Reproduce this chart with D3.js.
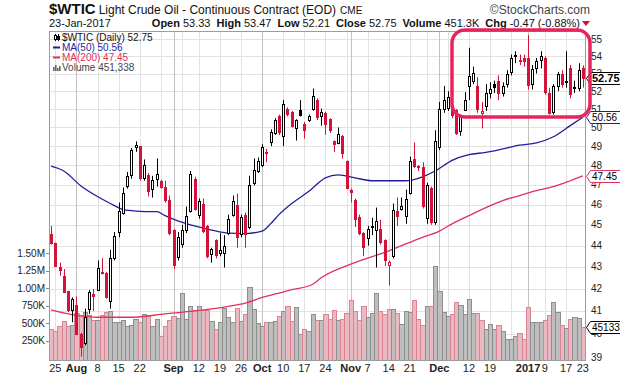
<!DOCTYPE html>
<html>
<head>
<meta charset="utf-8">
<script src="https://cdn.jsdelivr.net/npm/d3@7"></script>
<style>
  body { margin: 0; background: #fff; }
  svg { display: block; font-family: "Liberation Sans", Arial, sans-serif; }
</style>
</head>
<body>
<div id="chart"></div>
<script>
// daily OHLC, 22-Jul-2016 .. 23-Jan-2017 (127 sessions)
const opens = [44.57,44.11,43.00,42.60,41.88,41.05,41.28,40.00,39.60,41.08,41.75,41.95,42.77,42.70,41.43,43.40,44.65,45.58,46.95,47.50,
  48.95,49.00,47.35,47.50,46.77,47.30,47.20,46.90,46.25,44.75,43.45,44.08,44.75,45.70,47.30,45.50,46.05,44.95,43.62,44.25,
  43.65,43.66,44.60,45.50,46.00,44.55,45.50,44.90,47.10,47.70,48.00,48.70,49.20,49.70,50.60,49.55,51.03,50.85,49.95,50.95,
  50.20,50.40,51.03,51.50,50.62,50.78,50.45,49.25,49.17,49.55,48.20,46.75,46.25,45.40,44.60,44.35,44.95,44.75,44.80,44.25,
  43.10,43.50,45.70,45.80,45.45,46.60,48.30,47.95,47.90,45.35,46.85,45.15,48.95,51.00,51.05,51.00,50.95,49.80,50.95,52.30,
  52.55,52.30,50.80,51.20,51.90,52.40,52.60,51.90,52.40,53.10,54.00,53.70,53.90,53.90,52.40,53.30,53.80,53.90,51.90,50.85,
  52.30,53.00,52.50,53.30,52.25,52.20,53.33];
const highs = [44.95,44.15,43.20,42.90,41.90,41.60,41.65,40.05,41.10,41.94,41.98,43.30,43.40,42.77,43.80,44.65,46.10,46.85,47.65,48.90,
  49.25,49.00,48.30,47.60,47.45,48.35,47.25,47.20,46.45,44.80,44.65,45.00,45.90,47.70,47.40,46.30,46.30,45.00,43.90,44.30,
  44.60,44.50,45.50,46.45,46.55,45.50,45.60,47.45,48.35,48.40,49.10,48.85,49.90,50.50,50.70,51.50,51.10,50.90,50.45,51.50,
  50.30,50.70,52.15,51.60,51.03,50.85,50.50,49.30,50.00,49.60,48.25,46.80,46.30,45.50,44.65,44.95,45.35,45.85,45.25,44.30,
  43.30,46.05,46.35,46.35,46.75,48.45,49.20,48.00,48.15,47.10,46.90,49.85,51.40,52.30,52.00,51.05,51.00,50.70,51.95,54.50,
  53.40,52.80,51.40,52.40,52.50,52.60,52.90,52.50,53.20,54.10,54.30,54.10,54.10,55.25,53.50,53.90,54.30,54.00,52.20,52.40,
  53.10,53.20,54.30,53.50,52.60,53.60,53.47];
const lows = [44.05,43.00,42.60,41.80,40.95,40.50,39.95,39.02,39.50,40.86,41.00,41.90,42.65,41.55,41.10,43.30,44.40,45.50,46.80,47.30,
  48.70,47.20,47.20,46.40,46.35,46.90,46.80,46.10,44.50,42.90,43.30,43.90,44.60,45.60,45.70,45.30,44.60,43.40,43.20,43.40,
  43.50,42.97,44.50,45.40,43.90,44.40,43.90,44.80,46.95,47.60,47.90,48.15,49.00,49.60,49.60,49.00,50.60,50.00,49.30,50.60,
  49.40,50.30,50.92,50.40,50.10,49.60,49.70,48.70,49.10,48.35,46.80,46.10,44.90,44.50,43.50,44.00,44.50,42.97,44.05,43.05,
  42.15,43.40,44.95,45.70,45.05,46.50,47.85,47.70,45.80,45.05,45.00,45.00,48.80,50.80,50.90,50.50,49.60,49.55,50.90,51.50,
  52.40,50.80,49.95,50.90,51.60,51.90,51.50,51.70,52.20,52.90,53.60,53.50,53.40,52.10,52.10,53.00,53.30,51.80,50.70,50.70,
  52.00,52.20,52.20,51.60,51.90,52.00,52.21];
const closes = [44.11,43.05,42.87,41.85,41.05,41.55,40.00,39.42,40.75,41.86,41.67,42.95,42.70,41.62,43.40,44.45,45.70,46.60,47.45,48.80,
  49.05,47.35,48.03,46.70,47.25,47.55,46.90,46.25,44.60,43.10,44.40,44.75,45.45,47.55,45.80,46.20,44.70,43.50,43.85,43.58,
  43.80,44.00,45.30,46.20,44.40,45.40,44.55,47.00,47.75,48.20,48.95,48.62,49.75,50.40,49.75,51.30,50.75,50.10,50.40,50.70,
  49.85,50.60,51.75,50.55,50.82,50.20,49.85,49.12,49.65,48.62,46.85,46.62,45.30,44.60,43.95,44.80,44.90,45.20,44.15,43.30,
  43.25,45.75,45.45,45.95,46.30,48.20,47.95,47.90,45.95,47.00,45.15,49.30,51.03,51.50,51.70,50.70,49.70,50.60,51.50,52.85,
  53.05,51.00,50.90,51.90,52.15,52.25,51.90,52.30,53.00,53.90,54.05,53.80,53.72,52.35,53.25,53.75,54.00,51.95,50.80,52.30,
  53.00,52.40,52.55,51.85,52.20,53.22,52.75];
const prevClose0 = 44.75;
// volume in millions of contracts
const volumes = [0.41,0.39,0.46,0.53,0.46,0.47,0.65,0.61,0.66,0.62,0.54,0.54,0.61,0.66,0.67,0.52,0.51,0.55,0.46,0.47,
  0.56,0.52,0.63,0.61,0.46,0.56,0.32,0.46,0.55,0.60,0.57,0.93,0.56,0.74,0.68,0.74,0.69,0.69,0.53,0.42,
  0.51,0.71,0.58,0.52,0.71,0.53,0.63,1.02,0.70,0.50,0.46,0.52,0.52,0.53,0.60,0.67,0.74,0.53,0.73,0.34,
  0.42,0.38,0.63,0.54,0.54,0.63,0.56,0.69,0.54,0.56,0.65,0.83,0.67,0.54,0.74,0.58,0.65,0.93,0.67,0.63,
  0.70,0.70,0.65,0.49,0.67,0.66,0.83,0.56,0.47,0.74,0.74,1.32,0.96,0.66,0.60,0.63,0.80,0.76,0.63,0.84,
  0.65,0.65,0.54,0.42,0.49,0.42,0.47,0.38,0.27,0.27,0.31,0.36,0.27,0.73,0.51,0.51,0.51,0.55,0.62,0.80,
  0.66,0.47,0.43,0.56,0.58,0.57,0.45];

// moving averages at sample sessions
const ma50Idx = [0,3,7,11,15,17,19,23,25,27,30,34,38,42,46,50,52,54,57,61,65,68,72,76,80,84,88,91,95,99,103,107,111,115,119,123,126];
const ma50Val = [47.95,47.7,46.95,46.4,45.95,45.75,45.7,45.65,45.65,45.45,45.2,44.95,44.75,44.6,44.58,44.7,45.05,45.5,46.05,46.65,
  47.35,47.5,47.35,47.2,47.2,47.2,47.4,47.7,48.25,48.55,48.67,48.85,49.05,49.17,49.5,50.1,50.56];
const ma200Idx = [0,6,11,19,27,34,42,46,50,54,57,62,64,72,80,84,88,92,95,99,103,107,111,115,119,123,126];
const ma200Val = [41.05,40.8,40.72,40.72,40.87,41.0,41.2,41.35,41.6,41.8,41.95,42.2,42.5,43.2,43.75,44.08,44.4,44.7,45.05,45.45,
  45.85,46.2,46.45,46.7,46.9,47.2,47.45];

// axis ticks
const priceTicks = d3.range(39, 56);
const volTicks = [0.25, 0.5, 0.75, 1.0, 1.25, 1.5];
const volTickLabels = ["250K", "500K", "750K", "1.00M", "1.25M", "1.50M"];
const dateTickIdx = [1,6,11,16,21,29,35,40,45,50,55,60,65,71,75,80,85,92,99,104,113,117,122,126];
const dateTickText = ["25","Aug","8","15","22","Sep","12","19","26","Oct","10","17","24","Nov","7","14","21","Dec","12","19","2017","9","17","23"];
const weekIdx = [1,6,11,16,21,26,31,35,40,45,50,55,60,65,70,75,80,85,89,94,99,104,109,113,117,122];
const monthIdx = [6,29,50,71,92,113];

const W = 620, H = 376;
const P = { left: 49, right: 585, top: 31, bottom: 360 };
const RED = "#d3123c", BLUE = "#1f1f9e", MARED = "#e0325a";

const svg = d3.select("#chart").append("svg")
  .attr("width", W).attr("height", H)
  .attr("viewBox", [0, 0, W, H]);

const x = d3.scaleBand()
  .domain(d3.range(closes.length))
  .range([P.left, P.right]);
const cx = i => x(i) + x.bandwidth() / 2;

const y = d3.scaleLog()
  .domain([38.88, 55.5])
  .range([P.bottom, P.top]);

const vy = d3.scaleLinear()
  .domain([0, 1.5])
  .range([358, 253]);

const data = closes.map((c, i) => ({
  i, o: opens[i], h: highs[i], l: lows[i], c, v: volumes[i],
  up: c > (i === 0 ? prevClose0 : closes[i - 1])
}));

// grid
const grid = svg.append("g");
grid.selectAll("line.h").data(priceTicks).join("line")
  .attr("x1", P.left).attr("x2", P.right)
  .attr("y1", d => Math.round(y(d)) + 0.5).attr("y2", d => Math.round(y(d)) + 0.5)
  .attr("stroke", "#e2e2e2");
grid.selectAll("line.w").data(weekIdx).join("line")
  .attr("x1", d => Math.round(cx(d)) + 0.5).attr("x2", d => Math.round(cx(d)) + 0.5)
  .attr("y1", P.top).attr("y2", P.bottom)
  .attr("stroke", "#e2e2e2");
grid.selectAll("line.m").data(monthIdx).join("line")
  .attr("x1", d => Math.round(cx(d)) + 0.5).attr("x2", d => Math.round(cx(d)) + 0.5)
  .attr("y1", P.top).attr("y2", P.bottom)
  .attr("stroke", "#c2c2c2");

// volume bars
svg.append("g").selectAll("rect").data(data).join("rect")
  .attr("x", d => Math.round(x(d.i)) + 0.5)
  .attr("width", d => Math.round(x(d.i) + x.bandwidth()) - Math.round(x(d.i)))
  .attr("y", d => Math.round(vy(d.v)) + 0.5)
  .attr("height", d => P.bottom - Math.round(vy(d.v)))
  .attr("fill", d => d.up ? "#bebebe" : "#eab8c0")
  .attr("stroke", d => d.up ? "#8e8e8e" : "#d88492");

// moving averages
const maLine = d3.line().x(d => cx(d[0])).y(d => y(d[1])).curve(d3.curveMonotoneX);
svg.append("path").attr("d", maLine(d3.zip(ma200Idx, ma200Val)))
  .attr("fill", "none").attr("stroke", MARED).attr("stroke-width", 1.3);
svg.append("path").attr("d", maLine(d3.zip(ma50Idx, ma50Val)))
  .attr("fill", "none").attr("stroke", BLUE).attr("stroke-width", 1.3);

// candles
const candles = svg.append("g").selectAll("g").data(data).join("g");
candles.append("line")
  .attr("x1", d => Math.round(cx(d.i)) + 0.5).attr("x2", d => Math.round(cx(d.i)) + 0.5)
  .attr("y1", d => y(d.h)).attr("y2", d => y(d.l))
  .attr("stroke", d => d.up ? "#000" : RED);
candles.append("rect")
  .attr("x", d => Math.round(cx(d.i)) - 0.5)
  .attr("width", 2)
  .attr("y", d => Math.round(y(Math.max(d.o, d.c))) + 0.5)
  .attr("height", d => Math.max(0, Math.round(y(Math.min(d.o, d.c))) - Math.round(y(Math.max(d.o, d.c)))))
  .attr("fill", d => d.c >= d.o ? "#fff" : (d.up ? "#000" : RED))
  .attr("stroke", d => d.up ? "#000" : RED);

// frame
svg.append("rect")
  .attr("x", P.left + 0.5).attr("y", P.top + 0.5)
  .attr("width", P.right - P.left).attr("height", P.bottom - P.top)
  .attr("fill", "none").attr("stroke", "#9c9c9c");

// right price axis
svg.append("g").selectAll("text").data(priceTicks).join("text")
  .attr("x", 591).attr("y", d => y(d)).attr("dy", "0.35em")
  .attr("font-size", 10).attr("fill", "#222")
  .text(d => d);

// left volume axis
const va = svg.append("g");
va.selectAll("text").data(volTicks).join("text")
  .attr("x", 45).attr("y", d => vy(d)).attr("dy", "0.35em")
  .attr("text-anchor", "end").attr("font-size", 10).attr("fill", "#222")
  .text((d, k) => volTickLabels[k]);
va.selectAll("line").data(volTicks).join("line")
  .attr("x1", 46).attr("x2", 49)
  .attr("y1", d => Math.round(vy(d)) + 0.5).attr("y2", d => Math.round(vy(d)) + 0.5)
  .attr("stroke", "#888");

// date axis
svg.append("g").selectAll("text").data(dateTickIdx).join("text")
  .attr("x", d => cx(d)).attr("y", 372)
  .attr("text-anchor", "middle").attr("font-size", 11)
  .attr("font-weight", (d, k) => /^[A-Z]|2017/.test(dateTickText[k]) ? "bold" : "normal")
  .attr("fill", "#222")
  .text((d, k) => dateTickText[k]);

// value tags on the right
function tag(yv, text, color, bold) {
  const g = svg.append("g");
  g.append("path")
    .attr("d", `M586.5,${yv} L590.5,${yv - 6} L621,${yv - 6} L621,${yv + 6} L590.5,${yv + 6} Z`)
    .attr("fill", "#fff").attr("stroke", color);
  g.append("text").attr("x", 592).attr("y", yv).attr("dy", "0.35em")
    .attr("font-size", bold ? 11 : 10).attr("font-weight", bold ? "bold" : "normal")
    .attr("fill", "#000").text(text);
}
tag(Math.round(y(closes[closes.length - 1])) + 0.5, "52.75", "#000", true);
tag(Math.round(y(ma50Val[ma50Val.length - 1])) + 0.5, "50.56", BLUE, false);
tag(Math.round(y(ma200Val[ma200Val.length - 1])) + 0.5, "47.45", MARED, false);
tag(Math.round(vy(volumes[volumes.length - 1])) + 0.5, "451338", "#000", false);

// header
const t1 = svg.append("text").attr("x", P.left).attr("y", 14).attr("fill", "#111");
t1.append("tspan").attr("font-size", 15).attr("font-weight", "bold").text("$WTIC");
t1.append("tspan").attr("font-size", 12).attr("dx", 3).text("Light Crude Oil - Continuous Contract (EOD)");
t1.append("tspan").attr("font-size", 10).attr("dx", 4).text("CME");
svg.append("text").attr("x", 590).attr("y", 14).attr("text-anchor", "end")
  .attr("font-size", 12).attr("fill", "#444").text("\u00a9StockCharts.com");

svg.append("text").attr("x", P.left).attr("y", 27).attr("font-size", 11).attr("fill", "#111").text("23-Jan-2017");
const t2 = svg.append("text").attr("x", 580).attr("y", 27).attr("text-anchor", "end")
  .attr("font-size", 11).attr("fill", "#111");
[["Open", "53.33"], ["High", "53.47"], ["Low", "52.21"], ["Close", "52.75"], ["Volume", "451.3K"], ["Chg", "-0.47 (-0.88%)"]]
  .forEach(([k, v], n) => {
    t2.append("tspan").attr("font-weight", "bold").attr("dx", n ? 6 : 0).text(k);
    t2.append("tspan").attr("dx", 3).text(v);
  });
svg.append("path").attr("d", "M582,21 L590,21 L586,26 Z").attr("fill", RED);

// legend
const lg = svg.append("g").attr("font-size", 10);
lg.append("line").attr("x1", 55.5).attr("x2", 55.5).attr("y1", 34).attr("y2", 41).attr("stroke", "#000");
lg.append("rect").attr("x", 54.5).attr("y", 35.5).attr("width", 2).attr("height", 4).attr("fill", "#fff").attr("stroke", "#000");
lg.append("line").attr("x1", 58.5).attr("x2", 58.5).attr("y1", 34).attr("y2", 41).attr("stroke", "#000");
lg.append("rect").attr("x", 57.5).attr("y", 36.5).attr("width", 2).attr("height", 3).attr("fill", "#000").attr("stroke", "#000");
lg.append("text").attr("x", 62).attr("y", 41).attr("fill", "#111").text("$WTIC (Daily) 52.75");
lg.append("line").attr("x1", 53).attr("x2", 60).attr("y1", 47.5).attr("y2", 47.5).attr("stroke", BLUE).attr("stroke-width", 2);
lg.append("text").attr("x", 62).attr("y", 51).attr("fill", BLUE).text("MA(50) 50.56");
lg.append("line").attr("x1", 53).attr("x2", 60).attr("y1", 57.5).attr("y2", 57.5).attr("stroke", MARED).attr("stroke-width", 2);
lg.append("text").attr("x", 62).attr("y", 61).attr("fill", MARED).text("MA(200) 47.45");
[[53, 4], [55, 6], [57, 3], [59, 5]].forEach(([bx, bh]) =>
  lg.append("rect").attr("x", bx).attr("y", 71 - bh).attr("width", 1.6).attr("height", bh).attr("fill", "#666"));
lg.append("text").attr("x", 62).attr("y", 71).attr("fill", "#444").text("Volume 451,338");

// highlight box
svg.append("rect")
  .attr("x", 452).attr("y", 30).attr("width", 138).attr("height", 87)
  .attr("rx", 13).attr("fill", "none")
  .attr("stroke", "#e8245d").attr("stroke-width", 3.5);
</script>
</body>
</html>
